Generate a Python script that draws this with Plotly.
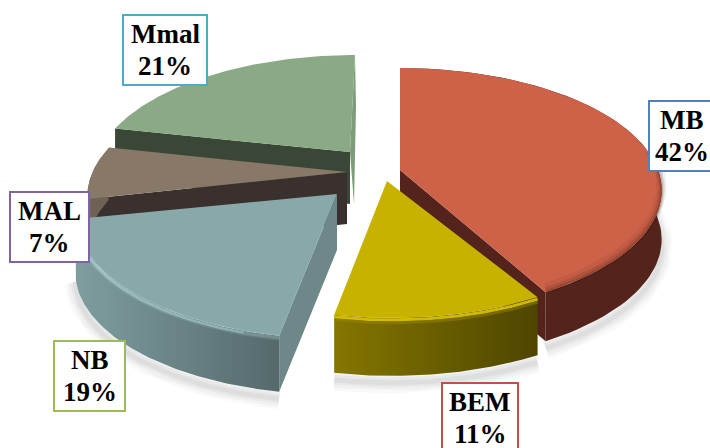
import numpy as np
import plotly.graph_objects as go

categories = ['MB', 'BEM', 'NB', 'MAL', 'Mmal']
values = [42, 11, 19, 7, 21]

# styling per slice, same order as categories
top_colors = ['#CE6249', '#C8B200', '#88A8A9', '#877868', '#8AAA85']
wall_colors = ['#54241C', '#5F5400', '#6E8889', '#3A302D', '#3A4736']
rim_stops = [['#54241C', '#54241C'], ['#847600', '#4F4500'], ['#7F9EA0', '#55696B'],
             ['#6F6255', '#6F6255'], ['#3A4736', '#3A4736']]
border_colors = ['#4F81BD', '#C0504D', '#9BBB59', '#8064A2', '#4BACC6']
explode = [(30, 0), (22, 5), (-33, 26), (-21, 6), (-15, -13)]
apex_nudge = [(0, 0), (-5, 6), (0, -2), (-2, -4), (-5, -5)]
depths = [49, 58, 56, 52, 52]

# label boxes in px: left, top, right, bottom
label_boxes = [(649, 101, 714, 171), (442, 383, 518, 454), (54, 341, 125, 411), (10, 192, 89, 262), (123, 15, 207, 85)]
LINE_GAP = 16

CENTER = (370, 170)
A, B, K = 258, 119, 0.167


def project(theta, radius, offset):
    # clockwise from the top, far side a bit smaller
    xx = radius * np.sin(theta)
    yy = radius * np.cos(theta)
    w = 1 + K * yy
    return CENTER[0] + offset[0] + A * xx / w, CENTER[1] + offset[1] - B * yy / w


def poly(xs, ys, color=None, stops=None):
    trace = dict(x=list(xs), y=list(ys), mode='lines', fill='toself', line=dict(width=0),
                 hoverinfo='skip', showlegend=False)
    if stops:
        trace['fillgradient'] = dict(type='horizontal', colorscale=[[0, stops[0]], [1, stops[1]]])
    else:
        trace['fillcolor'] = color
    return go.Scatter(**trace)


def line(xs, ys, color, width):
    return go.Scatter(x=list(xs), y=list(ys), mode='lines', line=dict(color=color, width=width),
                      hoverinfo='skip', showlegend=False)


def slice_traces(i, start, end):
    t = np.linspace(start, end, 80)
    off = explode[i]
    depth = depths[i]
    ax, ay = project(0, 0, off)
    ax, ay = ax + apex_nudge[i][0], ay + apex_nudge[i][1]
    arc_x, arc_y = project(t, 1, off)
    traces = []

    # soft shadow under the front of the slice
    for w, alpha in [(22, 0.025), (16, 0.03), (10, 0.035), (5, 0.04)]:
        traces.append(line(arc_x, arc_y + depth + 7, f'rgba(0,0,0,{alpha})', w))

    # cut faces, only the ones turned to the viewer
    if i in (0, 2, 3, 4):
        e = end if i == 0 else start
        ex, ey = project(e, 1, off)
        traces.append(poly([ax, ex, ex, ax], [ay, ey, ey + depth, ay + depth], wall_colors[i]))
    if i == 4:
        ex, ey = project(end, 1, off)
        traces.append(poly([ax, ex, ex + 1, ax + 4], [ay, ey, ey + depth, ay + depth], '#7F9C7A'))

    # rim, the Mmal one faces away and is never seen
    if i != 4:
        traces.append(poly(np.r_[arc_x, arc_x[::-1]], np.r_[arc_y, arc_y[::-1] + depth], stops=rim_stops[i]))

    # top face
    traces.append(poly(np.r_[ax, arc_x], np.r_[ay, arc_y], top_colors[i]))

    # bevel on the visible rim
    if i == 0:
        front = np.cos(t) < 0.15
        for w, alpha in [(10, 0.08), (6, 0.12), (3, 0.2)]:
            traces.append(line(arc_x[front], arc_y[front] - w / 2 + 1, f'rgba(60,20,10,{alpha})', w))
    if i == 1:
        traces.append(line(arc_x, arc_y + 2, 'rgba(220,196,0,0.9)', 3))
        traces.append(line(arc_x, arc_y + 5, 'rgba(150,132,0,0.5)', 3))
    if i == 2:
        mid = (t > start + 0.1 * (end - start)) & (t < start + 0.8 * (end - start))
        for w, alpha in [(6, 0.12), (3, 0.2)]:
            traces.append(line(arc_x, arc_y + 2, f'rgba(190,228,230,{alpha})', w))
        traces.append(line(arc_x[mid], arc_y[mid] + 2, 'rgba(190,228,230,0.35)', 2))
    return traces


fractions = np.cumsum([0] + values) / sum(values) * 2 * np.pi
draw_order = [4, 3, 0, 2, 1]

fig = go.Figure()
for i in draw_order:
    fig.add_traces(slice_traces(i, fractions[i], fractions[i + 1]))

for cat, val, box, col in zip(categories, values, label_boxes, border_colors):
    x0, y0, x1, y1 = box
    fig.add_shape(type='rect', x0=x0, y0=y0, x1=x1, y1=y1, fillcolor='white', line=dict(color=col, width=2),
                  layer='above')
    xc = (x0 + x1) / 2
    yc = y0 + 35
    for text, yy in [(cat, yc - LINE_GAP), (f'{val}%', yc + LINE_GAP)]:
        fig.add_annotation(x=xc, y=yy, text=f'<b>{text}</b>', showarrow=False,
                           font=dict(family='Liberation Serif', size=27, color='black'))

fig.update_layout(width=710, height=448, margin=dict(l=0, r=0, t=0, b=0), showlegend=False,
                  paper_bgcolor='white', plot_bgcolor='white',
                  xaxis=dict(range=[0, 710], visible=False, fixedrange=True),
                  yaxis=dict(range=[448, 0], visible=False, fixedrange=True))
fig.write_html('out.html', config={'displayModeBar': False},
               post_script="document.body.style.margin='0';")
